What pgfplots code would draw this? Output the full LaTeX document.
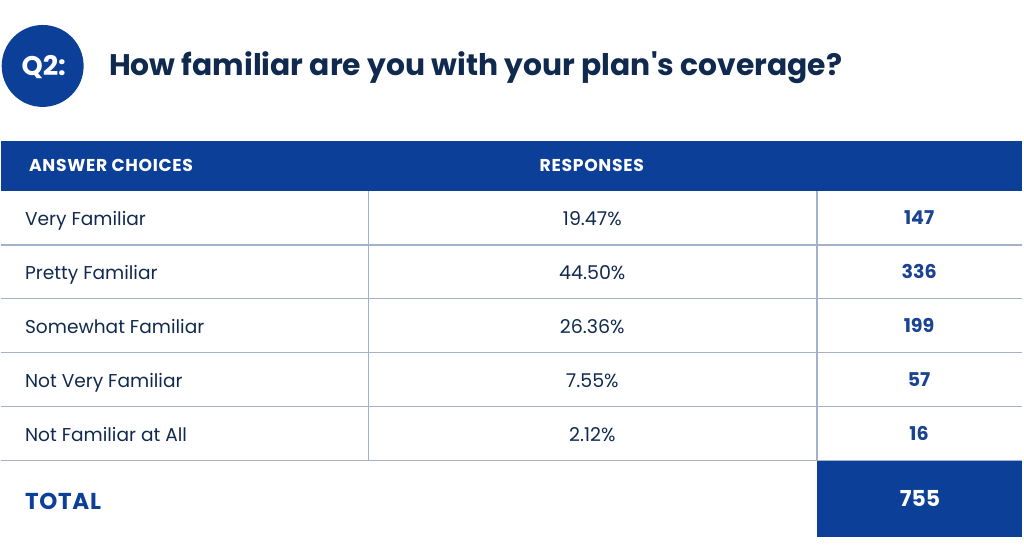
\documentclass[border=0pt]{standalone}
\usepackage{pgfplots}
\usepackage{pgfplotstable}
\pgfplotsset{compat=1.18}
\usepackage{fontspec}
\setmainfont{Poppins}
\definecolor{hdr}{HTML}{0C4098}
\definecolor{navy}{HTML}{102A4F}
\definecolor{cnt}{HTML}{1B4393}
\definecolor{rulec}{HTML}{A3B1CB}

\pgfplotstableread{
choice pct count
{Very Familiar} 19.47 147
{Pretty Familiar} 44.50 336
{Somewhat Familiar} 26.36 199
{Not Very Familiar} 7.55 57
{Not Familiar at All} 2.12 16
}\data

\begin{document}
\begin{tikzpicture}
\begin{axis}[width=512pt,height=280pt,scale only axis,
  xmin=0,xmax=1024,ymin=0,ymax=560,y dir=reverse,
  hide axis,clip=false,
  /pgf/number format/assume math mode=true]
\path (axis cs:0,0) rectangle (axis cs:1024,560);
\fill[hdr] (axis cs:42,66) circle [radius=20.5pt];
\node[anchor=base, inner sep=0pt, text=white, font=\bfseries\fontsize{13.5}{15}\selectfont] at (axis cs:43,76) {Q2:};
\node[anchor=base west, inner sep=0pt, text=navy, font=\bfseries\fontsize{14.9}{17}\selectfont] at (axis cs:108,76) {How familiar are you with your plan\textquotesingle s coverage?};
\fill[hdr] (axis cs:0,141) rectangle (axis cs:1022,191);
\node[anchor=base west, inner sep=0pt, text=white, font=\bfseries\fontsize{8.6}{10}\selectfont] at (axis cs:28,172) {\addfontfeatures{LetterSpace=4}ANSWER CHOICES};
\node[anchor=base west, inner sep=0pt, text=white, font=\bfseries\fontsize{8.6}{10}\selectfont] at (axis cs:539,172) {\addfontfeatures{LetterSpace=4}RESPONSES};
\draw[rulec, line width=0.7pt] (axis cs:0,245) -- (axis cs:1022,245);
\draw[rulec, line width=0.7pt] (axis cs:0,299) -- (axis cs:1022,299);
\draw[rulec, line width=0.7pt] (axis cs:0,353) -- (axis cs:1022,353);
\draw[rulec, line width=0.7pt] (axis cs:0,407) -- (axis cs:1022,407);
\draw[rulec, line width=0.7pt] (axis cs:0,461) -- (axis cs:1022,461);
\draw[rulec, line width=0.7pt] (axis cs:368,191) -- (axis cs:368,461);
\draw[rulec, line width=0.7pt] (axis cs:817,191) -- (axis cs:817,461);
\fill[hdr] (axis cs:817,461) rectangle (axis cs:1022,537);
\node[anchor=base west, inner sep=0pt, text=hdr, font=\bfseries\fontsize{11.5}{13}\selectfont] at (axis cs:24,510) {\addfontfeatures{LetterSpace=3}TOTAL};

\addplot[draw=none, mark=none, point meta=explicit symbolic,
  nodes near coords,
  every node near coord/.append style={anchor=base west, text=navy, font=\fontsize{9.3}{11}\selectfont, inner sep=0pt}]
  table[x expr=24, y expr=226+54*\coordindex, meta=choice] {\data};

\addplot[draw=none, mark=none, point meta=\thisrow{pct},
  nodes near coords={\pgfmathprintnumber[fixed,fixed zerofill,precision=2,assume math mode=true]{\pgfplotspointmeta}\%},
  every node near coord/.append style={anchor=base, text=navy, font=\fontsize{9.5}{11}\selectfont, inner sep=0pt}]
  table[x expr=592, y expr=226+54*\coordindex] {\data};

\addplot[draw=none, mark=none, point meta=\thisrow{count},
  nodes near coords={\pgfmathprintnumber[fixed,precision=0,assume math mode=true]{\pgfplotspointmeta}},
  every node near coord/.append style={anchor=base, text=cnt, font=\bfseries\fontsize{9.5}{11}\selectfont, inner sep=0pt}]
  table[x expr=919, y expr=225+54*\coordindex] {\data};

\addplot[draw=none, mark=none, point meta=explicit,
  nodes near coords={\pgfmathprintnumber[fixed,precision=0,assume math mode=true]{\pgfplotspointmeta}},
  every node near coord/.append style={anchor=base, text=white, font=\bfseries\fontsize{11}{13}\selectfont, inner sep=0pt}]
  coordinates {(920,507) [755]};
\end{axis}
\end{tikzpicture}
\end{document}
